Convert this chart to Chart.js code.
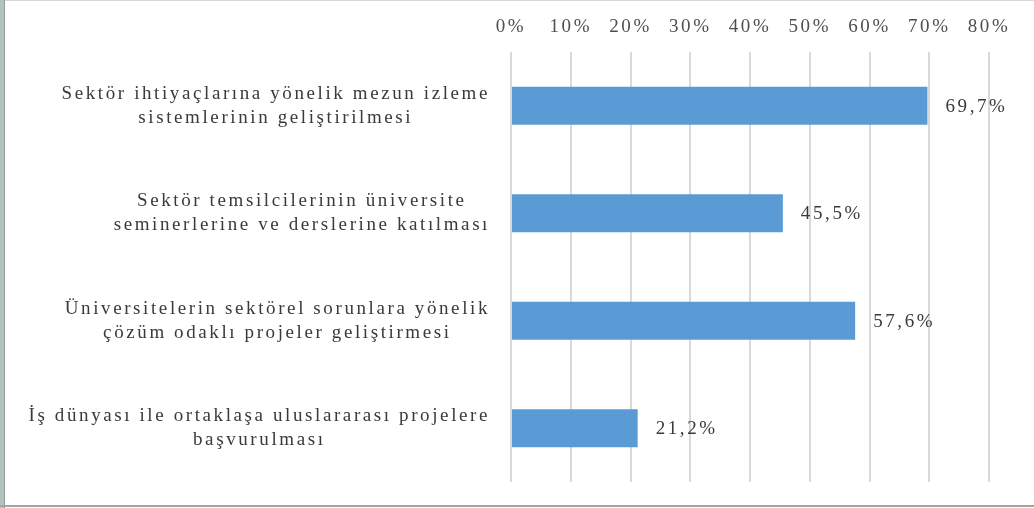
<!DOCTYPE html>
<html>
<head>
<meta charset="utf-8">
<script src="https://cdn.jsdelivr.net/npm/chart.js@4/dist/chart.umd.min.js"></script>
<style>
    body {
        margin: 0;
        background: #ffffff;
    }

    #marco {
        position: relative;
        width: 1034px;
        height: 508px;
        overflow: hidden;
    }

    #bordeIzq {
        position: absolute;
        left: 0;
        top: 0;
        width: 4px;
        height: 508px;
        background: #b4c4bd;
        border-right: 1px solid #8e9d97;
    }

    #bordeSup {
        position: absolute;
        left: 0;
        top: 0;
        width: 1034px;
        height: 1px;
        background: #d6d6d6;
    }

    #bordeInf {
        position: absolute;
        left: 0;
        top: 505px;
        width: 1034px;
        height: 2px;
        background: #a4a4a4;
    }

    canvas {
        position: absolute;
        left: 0;
        top: 0;
    }
</style>
</head>
<body>

<div id="marco">
    <div id="bordeSup"></div>
    <div id="bordeIzq"></div>
    <div id="bordeInf"></div>
    <canvas id="grafico" width="1034" height="508"></canvas>
</div>

<script>

// DATOS
const kategoriler = [
    ['Sektör ihtiyaçlarına yönelik mezun izleme', 'sistemlerinin geliştirilmesi'],
    ['Sektör temsilcilerinin üniversite', 'seminerlerine ve derslerine katılması'],
    ['Üniversitelerin sektörel sorunlara yönelik', 'çözüm odaklı projeler geliştirmesi'],
    ['İş dünyası ile ortaklaşa uluslararası projelere', 'başvurulması']
];

const degerler = [69.7, 45.5, 57.6, 21.2];

const degerEtiketleri = ['69,7%', '45,5%', '57,6%', '21,2%'];

const eksenMin = 0;
const eksenMax = 80;
const eksenAdim = 10;

const familia = '"Liberation Serif", "Times New Roman", serif';
const fuente = '19px ' + familia;
const espaciado = '2.6px';
const colorTexto = '#3a3a3a';
const colorEje = '#4f4f4f';

// ETIQUETAS (categorias centradas + valores)
const etiquetasPlugin = {

    id: 'etiquetas',

    beforeDraw(chart) {
        chart.ctx.letterSpacing = espaciado;
    },

    afterDatasetsDraw(chart) {

        const ctx = chart.ctx;
        const escalaY = chart.scales.y;
        const meta = chart.getDatasetMeta(0);

        ctx.save();
        ctx.font = fuente;
        ctx.fillStyle = colorTexto;
        ctx.letterSpacing = espaciado;
        ctx.textBaseline = 'middle';

        kategoriler.forEach((lineas, i) => {

            const centroY = escalaY.getPixelForValue(i);

            const ancho = Math.max(
                ...lineas.map(l => ctx.measureText(l).width)
            );

            const centroX = chart.chartArea.left - 21 - ancho / 2;

            ctx.textAlign = 'center';

            lineas.forEach((linea, j) => {
                ctx.fillText(
                    linea,
                    centroX,
                    centroY + (j - (lineas.length - 1) / 2) * 24
                );
            });
        });

        ctx.textAlign = 'left';

        meta.data.forEach((barra, i) => {
            ctx.fillText(
                degerEtiketleri[i],
                barra.x + 18,
                barra.y + 1
            );
        });

        ctx.restore();
    }
};

new Chart(

    document.getElementById('grafico'),

    {
        type: 'bar',

        data: {

            labels: kategoriler,

            datasets: [{
                data: degerler,
                backgroundColor: '#5b9bd5',
                borderWidth: 0,
                categoryPercentage: 1,
                barPercentage: 0.355
            }]
        },

        options: {

            indexAxis: 'y',
            responsive: false,
            animation: false,

            layout: {
                padding: {
                    left: 0,
                    top: 0,
                    right: 45,
                    bottom: 26
                }
            },

            plugins: {
                legend: { display: false },
                tooltip: { enabled: false }
            },

            scales: {

                x: {
                    position: 'top',
                    min: eksenMin,
                    max: eksenMax,
                    ticks: {
                        stepSize: eksenAdim,
                        padding: 14,
                        color: colorEje,
                        font: {
                            family: familia,
                            size: 19
                        },
                        callback: v => v + '%'
                    },
                    grid: {
                        color: '#d9d9d9',
                        lineWidth: 2,
                        drawTicks: false
                    },
                    border: { display: false },
                    afterFit(scale) {
                        scale.height = 52;
                    }
                },

                y: {
                    ticks: { display: false },
                    grid: { display: false },
                    border: { display: false },
                    afterFit(scale) {
                        scale.width = 511;
                    }
                }
            }
        },

        plugins: [etiquetasPlugin]
    }
);

</script>
</body>
</html>
